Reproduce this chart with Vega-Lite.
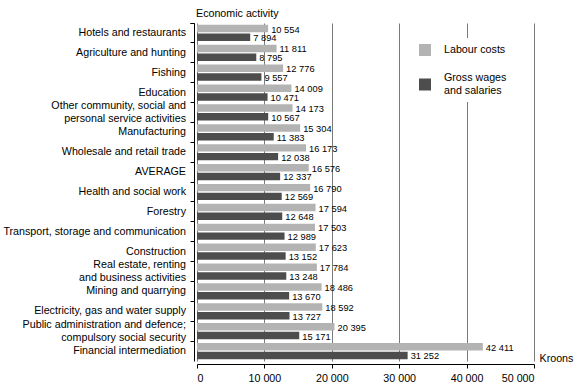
{
  "$schema": "https://vega.github.io/schema/vega-lite/v6.json",
  "width": 337,
  "height": 338,
  "autosize": {"type": "none"},
  "padding": {"left": 197, "top": 23, "right": 54, "bottom": 25},
  "background": "white",
  "config": {
    "locale": {"number": {"decimal": ".", "thousands": " ", "grouping": [3], "currency": ["", ""]}},
    "view": {"stroke": null},
    "font": "Liberation Sans"
  },
  "data": {
    "values": [
      {"activity": "Hotels and restaurants", "series": "Labour costs", "value": 10554},
      {"activity": "Hotels and restaurants", "series": "Gross wages and salaries", "value": 7894},
      {"activity": "Agriculture and hunting", "series": "Labour costs", "value": 11811},
      {"activity": "Agriculture and hunting", "series": "Gross wages and salaries", "value": 8795},
      {"activity": "Fishing", "series": "Labour costs", "value": 12776},
      {"activity": "Fishing", "series": "Gross wages and salaries", "value": 9557},
      {"activity": "Education", "series": "Labour costs", "value": 14009},
      {"activity": "Education", "series": "Gross wages and salaries", "value": 10471},
      {"activity": "Other community, social and personal service activities", "series": "Labour costs", "value": 14173},
      {"activity": "Other community, social and personal service activities", "series": "Gross wages and salaries", "value": 10567},
      {"activity": "Manufacturing", "series": "Labour costs", "value": 15304},
      {"activity": "Manufacturing", "series": "Gross wages and salaries", "value": 11383},
      {"activity": "Wholesale and retail trade", "series": "Labour costs", "value": 16173},
      {"activity": "Wholesale and retail trade", "series": "Gross wages and salaries", "value": 12038},
      {"activity": "AVERAGE", "series": "Labour costs", "value": 16576},
      {"activity": "AVERAGE", "series": "Gross wages and salaries", "value": 12337},
      {"activity": "Health and social work", "series": "Labour costs", "value": 16790},
      {"activity": "Health and social work", "series": "Gross wages and salaries", "value": 12569},
      {"activity": "Forestry", "series": "Labour costs", "value": 17594},
      {"activity": "Forestry", "series": "Gross wages and salaries", "value": 12648},
      {"activity": "Transport, storage and communication", "series": "Labour costs", "value": 17503},
      {"activity": "Transport, storage and communication", "series": "Gross wages and salaries", "value": 12989},
      {"activity": "Construction", "series": "Labour costs", "value": 17623},
      {"activity": "Construction", "series": "Gross wages and salaries", "value": 13152},
      {"activity": "Real estate, renting and business activities", "series": "Labour costs", "value": 17784},
      {"activity": "Real estate, renting and business activities", "series": "Gross wages and salaries", "value": 13248},
      {"activity": "Mining and quarrying", "series": "Labour costs", "value": 18486},
      {"activity": "Mining and quarrying", "series": "Gross wages and salaries", "value": 13670},
      {"activity": "Electricity, gas and water supply", "series": "Labour costs", "value": 18592},
      {"activity": "Electricity, gas and water supply", "series": "Gross wages and salaries", "value": 13727},
      {"activity": "Public administration and defence; compulsory social security", "series": "Labour costs", "value": 20395},
      {"activity": "Public administration and defence; compulsory social security", "series": "Gross wages and salaries", "value": 15171},
      {"activity": "Financial intermediation", "series": "Labour costs", "value": 42411},
      {"activity": "Financial intermediation", "series": "Gross wages and salaries", "value": 31252}
    ]
  },
  "encoding": {
    "y": {
      "field": "activity",
      "type": "nominal",
      "sort": null,
      "scale": {"paddingInner": 0, "paddingOuter": 0},
      "axis": {
        "title": "Economic activity",
        "titleAngle": 0,
        "titleAlign": "left",
        "titleBaseline": "middle",
        "titleX": 1.5,
        "titleY": -10,
        "titleFontSize": 10.7,
        "titleFontWeight": "normal",
        "titleColor": "black",
        "offset": 3,
        "domainColor": "black",
        "tickColor": "black",
        "tickSize": 4,
        "bandPosition": 0,
        "tickExtra": true,
        "labelFontSize": 10.7,
        "labelColor": "black",
        "labelPadding": 4.5,
        "labelLimit": 0,
        "labelLineHeight": 13,
        "labelOffset": {
          "condition": {
            "test": "datum.value == 'Other community, social and personal service activities' || datum.value == 'Real estate, renting and business activities' || datum.value == 'Public administration and defence; compulsory social security'",
            "value": -6.5
          },
          "value": 0
        },
        "grid": false,
        "labelExpr": "datum.value == 'Other community, social and personal service activities' ? ['Other community, social and', 'personal service activities'] : datum.value == 'Real estate, renting and business activities' ? ['Real estate, renting', 'and business activities'] : datum.value == 'Public administration and defence; compulsory social security' ? ['Public administration and defence;', 'compulsory social security'] : datum.value"
      }
    },
    "yOffset": {
      "field": "series",
      "type": "nominal",
      "sort": ["Labour costs", "Gross wages and salaries"],
      "scale": {"paddingInner": 0.148, "paddingOuter": 0.21}
    },
    "x": {
      "field": "value",
      "type": "quantitative",
      "scale": {"domain": [0, 50000], "nice": false},
      "axis": {
        "values": [0, 10000, 20000, 30000, 40000, 50000],
        "format": ",d",
        "title": "Kroons",
        "titleAnchor": "start",
        "titleAlign": "left",
        "titleBaseline": "middle",
        "titleX": 342,
        "titleY": -6,
        "titleFontSize": 10.7,
        "titleFontWeight": "normal",
        "titleColor": "black",
        "offset": 3,
        "domainColor": "black",
        "tickColor": "black",
        "tickSize": 4,
        "labelFontSize": 10.7,
        "labelColor": "black",
        "labelPadding": 5,
        "grid": true,
        "gridColor": "#7a7a7a",
        "gridWidth": 1
      }
    }
  },
  "layer": [
    {
      "mark": {"type": "bar"},
      "encoding": {
        "color": {
          "field": "series",
          "type": "nominal",
          "scale": {"domain": ["Labour costs", "Gross wages and salaries"], "range": ["#b3b3b3", "#4d4d4d"]},
          "legend": {
            "title": null,
            "orient": "none",
            "legendX": 216,
            "legendY": 15,
            "padding": 6,
            "fillColor": "white",
            "symbolType": "square",
            "symbolSize": 144,
            "symbolStrokeWidth": 0,
            "labelFontSize": 10.7,
            "labelColor": "black",
            "labelLimit": 0,
            "labelOffset": 13,
            "rowPadding": 16,
            "labelExpr": "datum.label == 'Gross wages and salaries' ? ['Gross wages', 'and salaries'] : datum.label",
            "encoding": {
              "symbols": {
                "y": {
                  "condition": {"test": "datum.value == 'Gross wages and salaries'", "value": 12.5},
                  "value": 6
                }
              }
            }
          }
        }
      }
    },
    {
      "mark": {"type": "text", "align": "left", "baseline": "middle", "dx": 3, "dy": 1, "fontSize": 9.3, "color": "black"},
      "encoding": {
        "text": {"field": "value", "type": "quantitative", "format": ",d"}
      }
    }
  ]
}
